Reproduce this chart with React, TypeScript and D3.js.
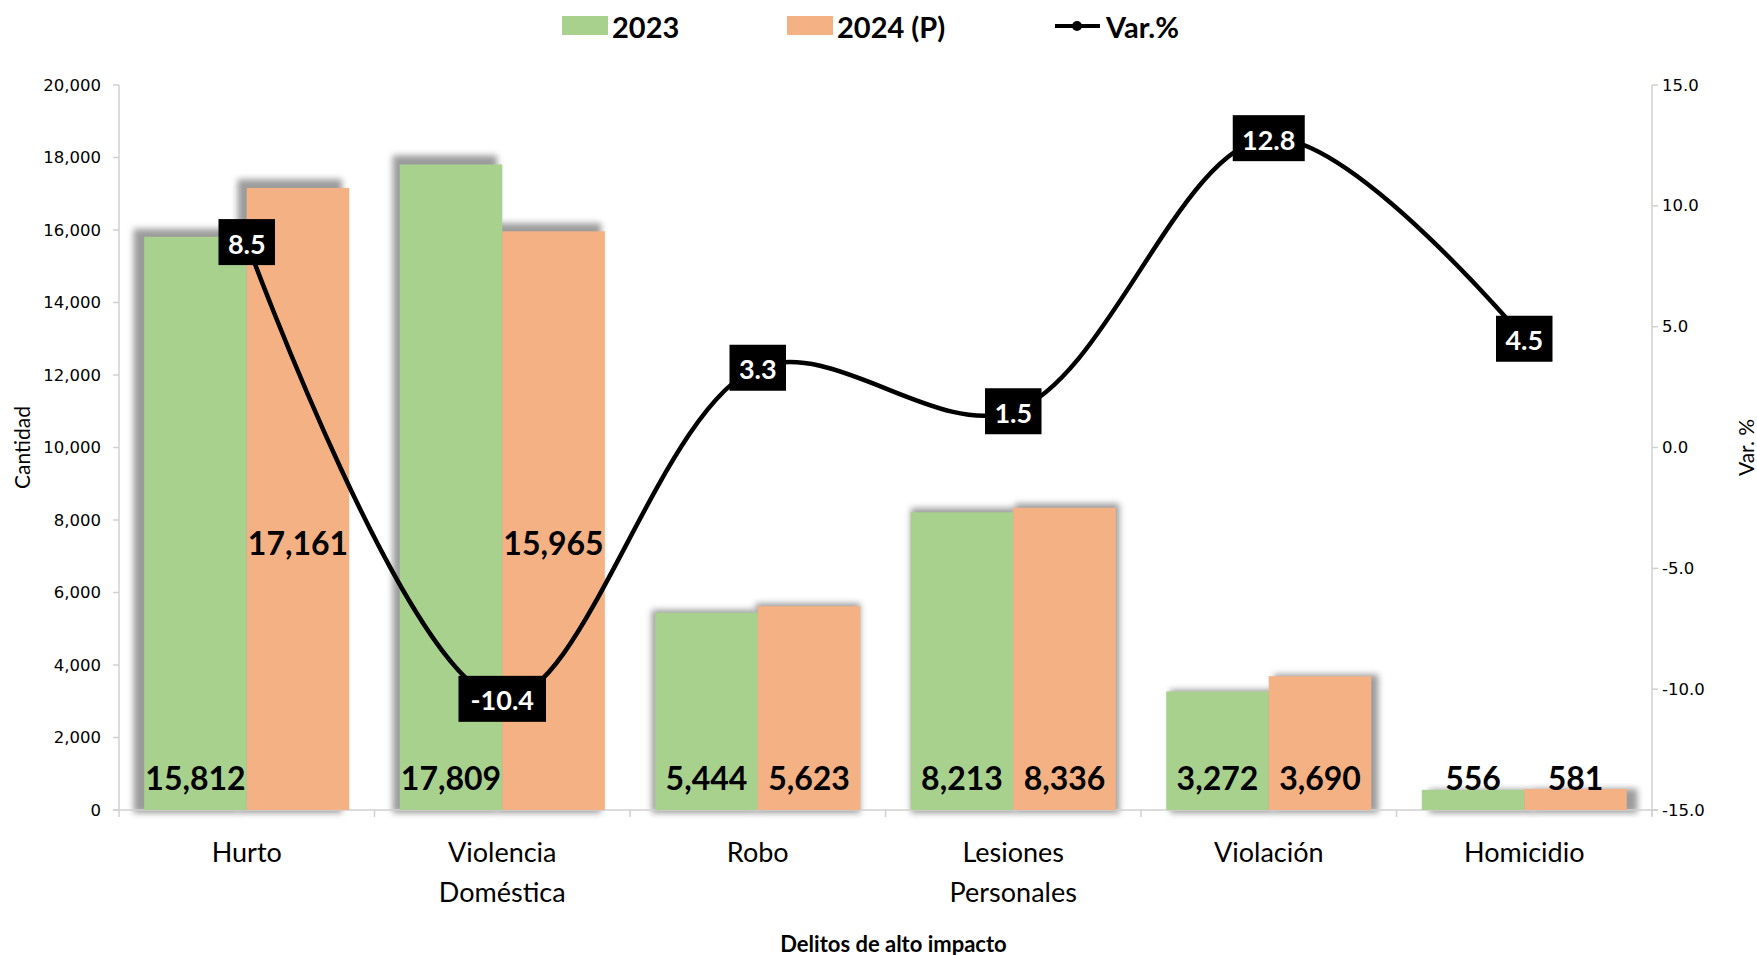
import React from "react";
import * as d3 from "d3";

const categories: string[][] = [
  ["Hurto"],
  ["Violencia", "Doméstica"],
  ["Robo"],
  ["Lesiones", "Personales"],
  ["Violación"],
  ["Homicidio"],
];
const values2023: number[] = [15812, 17809, 5444, 8213, 3272, 556];
const values2024: number[] = [17161, 15965, 5623, 8336, 3690, 581];
const varPct: number[] = [8.5, -10.4, 3.3, 1.5, 12.8, 4.5];
const leftTicks: number[] = [0, 2000, 4000, 6000, 8000, 10000, 12000, 14000, 16000, 18000, 20000];
const rightTicks: number[] = [-15, -10, -5, 0, 5, 10, 15];
const seriesNames = ["2023", "2024 (P)"];
const colors = ["#a9d18e", "#f4b183"];

const W = 1757;
const H = 955;
const L = 119;
const R = 1652;
const T = 85;
const B = 810;

export default function App() {
  const keys = categories.map((c) => c.join(" "));
  const x0 = d3.scaleBand<string>().domain(keys).range([L, R]).padding(0);
  const x1 = d3
    .scaleBand<string>()
    .domain(seriesNames)
    .range([0, x0.bandwidth()])
    .paddingInner(0)
    .paddingOuter(0.246);
  const yL = d3.scaleLinear().domain([0, 20000]).range([B, T]);
  const yR = d3.scaleLinear().domain([-15, 15]).range([B, T]);
  const fmt = d3.format(",");
  const cx = (L + R) / 2;

  const series = [values2023, values2024];
  const linePts: [number, number][] = varPct.map((v, i) => [
    (x0(keys[i]) as number) + x0.bandwidth() / 2,
    yR(v),
  ]);
  const lineGen = d3.line().curve(d3.curveCatmullRom.alpha(0.5));

  const bars: any[] = [];
  series.forEach((vals, s) => {
    vals.forEach((v, i) => {
      const bx = (x0(keys[i]) as number) + (x1(seriesNames[s]) as number);
      const bw = x1.bandwidth();
      const by = yL(v);
      bars.push({ s, i, v, bx, bw, by, bh: B - by });
    });
  });

  const calibri = "Lato, 'Open Sans', sans-serif";
  const tickFont = "'DejaVu Sans', Verdana, sans-serif";

  return (
    <svg
      width={W}
      height={H}
      style={{ position: "absolute", left: 0, top: 0, display: "block", background: "#fff" }}
    >
      <defs>
        <filter id="shadow" x="-20%" y="-20%" width="140%" height="140%">
          <feGaussianBlur stdDeviation="3" />
        </filter>
      </defs>

      {/* axes */}
      <line x1={L} y1={T} x2={L} y2={B} stroke="#d0d0d0" strokeWidth={1.5} />
      <line x1={R} y1={T} x2={R} y2={B + 6} stroke="#d0d0d0" strokeWidth={1.5} />
      {leftTicks.map((t) => (
        <g key={"l" + t}>
          <line x1={L - 6} x2={L} y1={yL(t)} y2={yL(t)} stroke="#d0d0d0" strokeWidth={1.5} />
          <text
            x={L - 18}
            y={yL(t)}
            textAnchor="end"
            dominantBaseline="central"
            fontFamily={tickFont}
            fontSize={16.5}
            fill="#000"
          >
            {fmt(t)}
          </text>
        </g>
      ))}
      {rightTicks.map((t) => (
        <g key={"r" + t}>
          <line x1={R} x2={R + 6} y1={yR(t)} y2={yR(t)} stroke="#d0d0d0" strokeWidth={1.5} />
          <text
            x={R + 10}
            y={yR(t)}
            textAnchor="start"
            dominantBaseline="central"
            fontFamily={tickFont}
            fontSize={16.5}
            fill="#000"
          >
            {t.toFixed(1)}
          </text>
        </g>
      ))}

      {/* bar shadows */}
      {bars.map((b) => {
        const dx = (b.bx + b.bw / 2 - cx) * 0.014;
        const dy = -b.bh * 0.014;
        return (
          <rect
            key={"sh" + b.s + "-" + b.i}
            x={b.bx + dx - 1}
            y={b.by + dy}
            width={b.bw + 2}
            height={b.bh - dy + 3}
            fill="#8a8a8a"
            opacity={0.85}
            filter="url(#shadow)"
          />
        );
      })}

      {/* x axis */}
      <line x1={L - 6} x2={R + 6} y1={B} y2={B} stroke="#d0d0d0" strokeWidth={1.5} />
      {d3.range(keys.length + 1).map((k) => {
        const xx = L + k * x0.bandwidth();
        return <line key={"xt" + k} x1={xx} x2={xx} y1={B} y2={B + 7} stroke="#d0d0d0" strokeWidth={1.5} />;
      })}

      {/* bars */}
      {bars.map((b) => (
        <rect
          key={"b" + b.s + "-" + b.i}
          x={b.bx}
          y={b.by}
          width={b.bw}
          height={b.bh}
          fill={colors[b.s]}
        />
      ))}

      {/* bar labels */}
      {bars.map((b) => {
        const raised = b.s === 1 && b.v > 15000;
        const ly = raised ? 542 : 777;
        return (
          <text
            key={"bl" + b.s + "-" + b.i}
            x={b.bx + b.bw / 2}
            y={ly}
            textAnchor="middle"
            dominantBaseline="central"
            fontFamily={calibri}
            fontWeight={700}
            fontSize={32}
            fill="#000"
          >
            {fmt(b.v)}
          </text>
        );
      })}

      {/* line */}
      <path d={lineGen(linePts) || ""} fill="none" stroke="#000" strokeWidth={4.5} />
      {linePts.map((p, i) => {
        const label = varPct[i].toFixed(1);
        const w = label.length * 15.5 + 10;
        return (
          <g key={"lp" + i}>
            <rect x={p[0] - w / 2} y={p[1] - 23} width={w} height={46} fill="#000" />
            <text
              x={p[0]}
              y={p[1] + 1}
              textAnchor="middle"
              dominantBaseline="central"
              fontFamily={calibri}
              fontWeight={700}
              fontSize={27}
              fill="#fff"
            >
              {label}
            </text>
          </g>
        );
      })}

      {/* category labels */}
      {categories.map((c, i) => (
        <text
          key={"c" + i}
          x={(x0(keys[i]) as number) + x0.bandwidth() / 2}
          y={851}
          textAnchor="middle"
          fontFamily={calibri}
          fontSize={27}
          fill="#000"
        >
          {c.map((ln, j) => (
            <tspan key={j} x={(x0(keys[i]) as number) + x0.bandwidth() / 2} y={851 + j * 40} dominantBaseline="central">
              {ln}
            </tspan>
          ))}
        </text>
      ))}

      {/* axis titles */}
      <text
        x={cx + 8}
        y={943}
        textAnchor="middle"
        dominantBaseline="central"
        fontFamily={calibri}
        fontWeight={700}
        fontSize={22}
        fill="#000"
      >
        Delitos de alto impacto
      </text>
      <text
        transform={`translate(21,${(T + B) / 2}) rotate(-90)`}
        textAnchor="middle"
        dominantBaseline="central"
        fontFamily={calibri}
        fontSize={21}
        fill="#000"
      >
        Cantidad
      </text>
      <text
        transform={`translate(1745,${(T + B) / 2}) rotate(-90)`}
        textAnchor="middle"
        dominantBaseline="central"
        fontFamily={calibri}
        fontSize={21}
        fill="#000"
      >
        Var. %
      </text>

      {/* legend */}
      <g>
        <rect x={562} y={16} width={46} height={19} fill={colors[0]} />
        <text x={612} y={26} dominantBaseline="central" fontFamily={calibri} fontWeight={700} fontSize={29} fill="#000">
          {seriesNames[0]}
        </text>
        <rect x={787} y={16} width={46} height={19} fill={colors[1]} />
        <text x={837} y={26} dominantBaseline="central" fontFamily={calibri} fontWeight={700} fontSize={29} fill="#000">
          {seriesNames[1]}
        </text>
        <line x1={1055} x2={1100} y1={26} y2={26} stroke="#000" strokeWidth={4} />
        <circle cx={1077} cy={26} r={5} fill="#000" />
        <text x={1106} y={26} dominantBaseline="central" fontFamily={calibri} fontWeight={700} fontSize={29} fill="#000">
          Var.%
        </text>
      </g>
    </svg>
  );
}
